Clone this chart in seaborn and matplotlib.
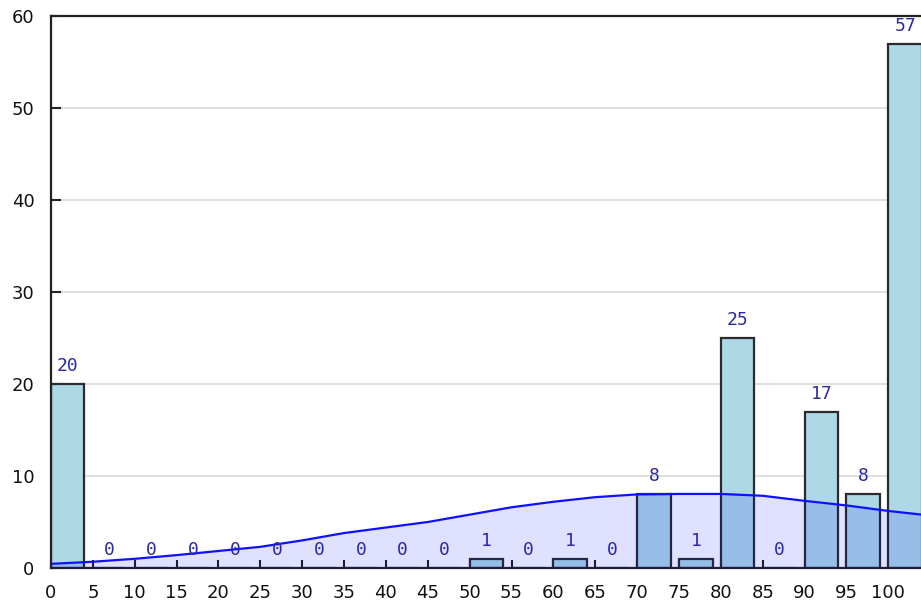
import numpy as np
import pandas as pd
import matplotlib
matplotlib.use("Agg")
import matplotlib.pyplot as plt
import seaborn as sns

# ---- data ----
bin_starts = [0, 5, 10, 15, 20, 25, 30, 35, 40, 45, 50, 55, 60, 65, 70, 75, 80, 85, 90, 95, 100]
counts = [20, 0, 0, 0, 0, 0, 0, 0, 0, 0, 1, 0, 1, 0, 8, 1, 25, 0, 17, 8, 57]
curve_x = [0, 5, 10, 15, 20, 25, 30, 35, 40, 45, 50, 55, 60, 65, 70, 75, 80, 85, 90, 95, 100, 104]
curve_y = [0.45, 0.68, 1.0, 1.4, 1.85, 2.3, 3.0, 3.8, 4.4, 5.0, 5.8, 6.6, 7.2, 7.7, 8.0, 8.05, 8.05,
           7.85, 7.3, 6.8, 6.2, 5.8]
x_ticks = list(range(0, 101, 5))
y_ticks = list(range(0, 61, 10))

bar_width = 4.0
df = pd.DataFrame({"x": np.array(bin_starts) + bar_width / 2, "count": counts})
cdf = pd.DataFrame({"x": curve_x, "y": curve_y})

sns.set_theme(style="white")
plt.rcParams["font.family"] = ["DejaVu Sans"]

fig = plt.figure(figsize=(9.21, 6.08), dpi=100)
ax = fig.add_axes([51 / 921, 40 / 608, 1 - 51 / 921, (568 - 16) / 608])

ax.set_axisbelow(True)
ax.yaxis.grid(True, color="#dcdcdc", linewidth=1.3)

sns.barplot(data=df, x="x", y="count", native_scale=True, width=0.8,
            color="#add8e6", saturation=1, edgecolor="#2b2b2b", linewidth=1.6,
            ax=ax, zorder=2)

ax.bar_label(ax.containers[0], labels=[str(c) for c in counts], padding=6.5,
             color="#2a2aa8", fontsize=13, family="DejaVu Sans Mono", zorder=5)

ax.fill_between(cdf["x"], 0, cdf["y"], color="blue", alpha=0.12, linewidth=0, zorder=3)
sns.lineplot(data=cdf, x="x", y="y", color="#1010ff", linewidth=1.6, ax=ax, zorder=4)

ax.set_xlim(0, 103.9)
ax.set_ylim(0, 60)
ax.set_xticks(x_ticks)
ax.set_xticklabels([str(t) for t in x_ticks])
ax.set_yticks(y_ticks)
ax.set_yticklabels([str(t) for t in y_ticks])
ax.set_xlabel("")
ax.set_ylabel("")

ax.tick_params(axis="x", direction="in", length=6, width=1.5, color="#222222",
               labelsize=13, pad=11.5, labelcolor="#111111", bottom=True)
ax.tick_params(axis="y", direction="in", length=7, width=1.5, color="#222222",
               labelsize=13, pad=12, labelcolor="#111111", left=True)

for side in ["left", "bottom", "top"]:
    ax.spines[side].set_visible(True)
    ax.spines[side].set_color("#222222")
    ax.spines[side].set_linewidth(1.6)
ax.spines["right"].set_visible(False)

fig.savefig("out.png", dpi=100)
